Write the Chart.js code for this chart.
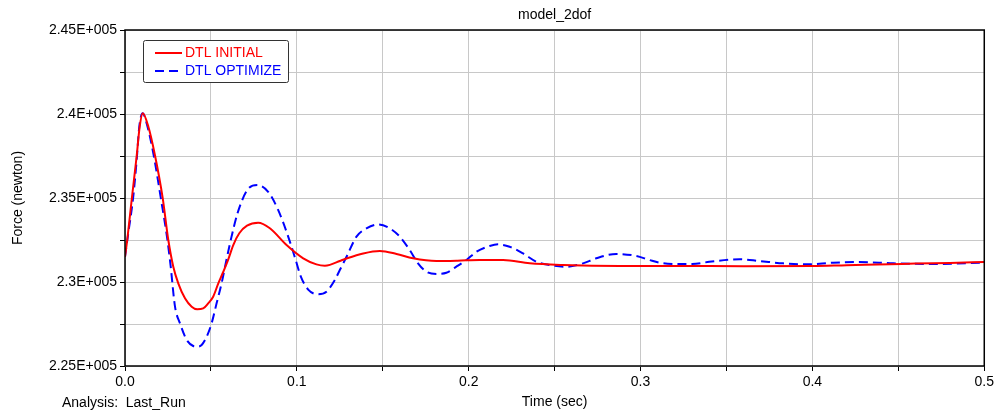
<!DOCTYPE html>
<html>
<head>
<meta charset="utf-8">
<title>model_2dof</title>
<script src="https://cdn.jsdelivr.net/npm/chart.js@4.4.1/dist/chart.umd.min.js"></script>
<style>
    body { margin: 0; background: #fff; }
    #wrap { width: 997px; height: 412px; }
</style>
</head>
<body>
<div id="wrap"><canvas id="forceChart" width="997" height="412"></canvas></div>
<script>
const chartTitle = 'model_2dof';
const analysisLabel = 'Analysis:  Last_Run';

const xTickValues = [0, 0.1, 0.2, 0.3, 0.4, 0.5];
const xTickLabels = ['0.0', '0.1', '0.2', '0.3', '0.4', '0.5'];
const yTickValues = [225000, 230000, 235000, 240000, 245000];
const yTickLabels = ['2.25E+005', '2.3E+005', '2.35E+005', '2.4E+005', '2.45E+005'];

// DTL INITIAL
const initialTime = [
    0, 0.0013, 0.004, 0.0068, 0.0085, 0.0103, 0.0136, 0.0174, 0.0219, 0.0252,
    0.0281, 0.031, 0.0349, 0.0388, 0.042, 0.0455, 0.0484, 0.0513, 0.0543, 0.0572,
    0.0601, 0.063, 0.0665, 0.071, 0.0775, 0.0843, 0.094, 0.1037, 0.1114, 0.1163,
    0.1192, 0.125, 0.1289, 0.1386, 0.1483, 0.158, 0.1676, 0.1812, 0.1935, 0.2064,
    0.22, 0.2355, 0.2548, 0.2878, 0.32, 0.36, 0.40, 0.42, 0.445, 0.46, 0.48, 0.5
];
const initialForce = [
    231500, 232500, 235000, 237500, 239200, 240040, 239240, 237560, 235020, 232500,
    230910, 229920, 229030, 228530, 228375, 228430, 228730, 229125, 229920, 230610,
    231350, 232200, 232900, 233350, 233530, 233200, 232200, 231410, 231050, 230970,
    231020, 231250, 231400, 231700, 231845, 231670, 231410, 231250, 231270, 231310,
    231310, 231110, 231010, 230950, 230950, 230940, 230950, 231000, 231050, 231100, 231130, 231190
];

// DTL OPTIMIZE
const optimizeTime = [
    0, 0.0019, 0.0048, 0.0068, 0.0083, 0.0103, 0.0126, 0.0165, 0.0208, 0.0247,
    0.0265, 0.0291, 0.032, 0.0359, 0.0397, 0.042, 0.0446, 0.0475, 0.0504, 0.0533,
    0.0562, 0.0591, 0.062, 0.0655, 0.0712, 0.0771, 0.0833, 0.0891, 0.0955, 0.0992,
    0.1022, 0.1066, 0.1124, 0.1172, 0.1221, 0.125, 0.1289, 0.1347, 0.1405, 0.1473,
    0.1541, 0.1599, 0.1657, 0.1705, 0.1754, 0.1812, 0.187, 0.1928, 0.1987, 0.2045,
    0.2122, 0.217, 0.2238, 0.2316, 0.2393, 0.2471, 0.2568, 0.2665, 0.2742, 0.2859,
    0.2975, 0.3052, 0.311, 0.323, 0.33, 0.34, 0.3576, 0.369, 0.383, 0.3965,
    0.412, 0.427, 0.447, 0.47, 0.5
];
const optimizeForce = [
    231500, 232900, 235080, 237260, 239240, 240040, 239440, 237650, 235020, 232500,
    231000, 228530, 227540, 226550, 226190, 226150, 226250, 226740, 227540, 228730,
    229920, 231350, 232700, 234100, 235480, 235770, 235370, 234290, 232540, 231350,
    230350, 229550, 229270, 229420, 230120, 230710, 231500, 232700, 233190, 233430,
    233190, 232700, 231900, 231110, 230610, 230480, 230550, 230910, 231310, 231800,
    232140, 232240, 232100, 231700, 231210, 231010, 230910, 231110, 231410, 231670,
    231550, 231310, 231150, 231070, 231070, 231200, 231350, 231250, 231110, 231050,
    231150, 231190, 231110, 231070, 231150
];

const fontFamily = '"Liberation Sans", Arial, sans-serif';

function toPoints(times, values) {
    return times.map((t, i) => ({ x: t, y: values[i] }));
}

function tickLabel(values, labels, value) {
    const i = values.findIndex(v => Math.abs(v - value) < 1e-6);
    return i >= 0 ? labels[i] : '';
}

// frame, title, run label and the boxed legend inside the plot
const plotDecor = {
    id: 'plotDecor',
    afterDraw(chart) {
        const { ctx, chartArea } = chart;
        ctx.save();

        ctx.strokeStyle = '#000';
        ctx.lineWidth = 1.5;
        ctx.strokeRect(chartArea.left, chartArea.top, chartArea.right - chartArea.left, chartArea.bottom - chartArea.top);

        ctx.font = '14px ' + fontFamily;
        ctx.fillStyle = '#000';
        ctx.textBaseline = 'middle';
        ctx.textAlign = 'center';
        ctx.fillText(chartTitle, (chartArea.left + chartArea.right) / 2, 15);
        ctx.textAlign = 'left';
        ctx.fillText(analysisLabel, 62, 403);

        const boxX = chartArea.left + 18;
        const boxY = chartArea.top + 10;
        ctx.beginPath();
        ctx.roundRect(boxX + 0.5, boxY + 0.5, 145, 42, 2);
        ctx.fillStyle = '#fff';
        ctx.fill();
        ctx.strokeStyle = '#333';
        ctx.lineWidth = 1;
        ctx.stroke();

        chart.data.datasets.forEach((ds, i) => {
            const y = boxY + 13 + i * 18;
            ctx.beginPath();
            ctx.setLineDash(ds.borderDash || []);
            ctx.strokeStyle = ds.borderColor;
            ctx.lineWidth = ds.borderWidth;
            ctx.moveTo(boxX + 12, y);
            ctx.lineTo(boxX + 39, y);
            ctx.stroke();
            ctx.setLineDash([]);
            ctx.fillStyle = ds.borderColor;
            ctx.fillText(ds.label, boxX + 42, y);
        });

        ctx.restore();
    }
};

new Chart(document.getElementById('forceChart'), {
    type: 'line',
    data: {
        datasets: [
            {
                label: 'DTL INITIAL',
                data: toPoints(initialTime, initialForce),
                borderColor: '#ff0000',
                borderWidth: 2,
                pointRadius: 0,
                cubicInterpolationMode: 'monotone'
            },
            {
                label: 'DTL OPTIMIZE',
                data: toPoints(optimizeTime, optimizeForce),
                borderColor: '#0000ff',
                borderWidth: 2,
                borderDash: [9, 5],
                pointRadius: 0,
                cubicInterpolationMode: 'monotone'
            }
        ]
    },
    options: {
        responsive: false,
        animation: false,
        devicePixelRatio: 1,
        layout: {
            padding: { top: 30, right: 12, left: 0, bottom: 0 }
        },
        scales: {
            x: {
                type: 'linear',
                min: 0,
                max: 0.5,
                afterFit: (scale) => { scale.height = 46; },
                border: { display: false },
                grid: {
                    color: '#c8c8c8',
                    lineWidth: 1,
                    tickLength: 5,
                    tickColor: '#000',
                    tickWidth: 1
                },
                ticks: {
                    stepSize: 0.05,
                    autoSkip: false,
                    maxRotation: 0,
                    padding: 3,
                    color: '#000',
                    font: { family: fontFamily, size: 14 },
                    callback: (value) => tickLabel(xTickValues, xTickLabels, value)
                },
                title: {
                    display: true,
                    text: 'Time (sec)',
                    color: '#000',
                    font: { family: fontFamily, size: 14 },
                    padding: { top: 0, bottom: 1 }
                }
            },
            y: {
                min: 225000,
                max: 245000,
                afterFit: (scale) => { scale.width = 125; },
                border: { display: false },
                grid: {
                    color: '#c8c8c8',
                    lineWidth: 1,
                    tickLength: 5,
                    tickColor: '#000',
                    tickWidth: 1
                },
                ticks: {
                    stepSize: 2500,
                    autoSkip: false,
                    padding: 3,
                    color: '#000',
                    font: { family: fontFamily, size: 14 },
                    callback: (value) => tickLabel(yTickValues, yTickLabels, value)
                },
                title: {
                    display: true,
                    text: 'Force (newton)',
                    color: '#000',
                    font: { family: fontFamily, size: 14 },
                    padding: { top: 10, bottom: 0 }
                }
            }
        },
        plugins: {
            legend: { display: false },
            title: { display: false },
            tooltip: { enabled: false }
        }
    },
    plugins: [plotDecor]
});
</script>
</body>
</html>
